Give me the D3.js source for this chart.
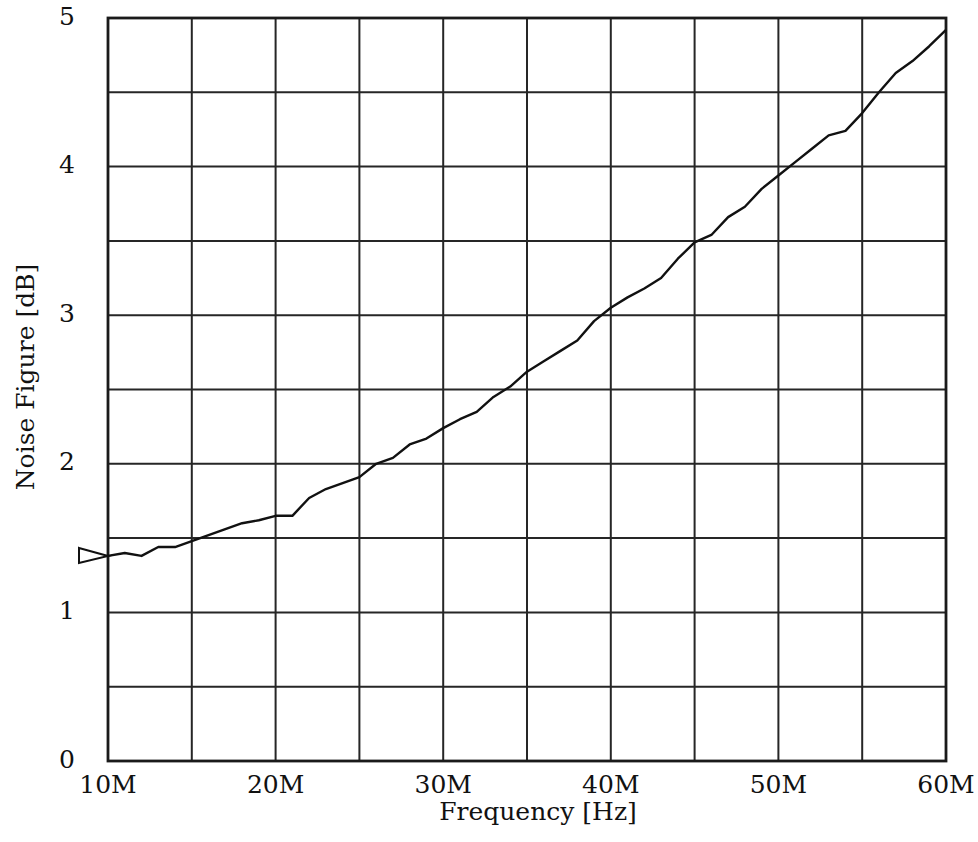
<!DOCTYPE html>
<html>
<head>
<meta charset="UTF-8">
<script src="https://d3js.org/d3.v7.min.js"></script>
<style>
  body { margin: 0; background: #fff; }
  svg text { font-family: "DejaVu Serif", serif; fill: #111; }
</style>
</head>
<body>
<svg id="chart" width="978" height="842"></svg>
<script>
// data, 1 MHz steps
var freqMHz = [10, 11, 12, 13, 14, 15, 16, 17, 18, 19,
               20, 21, 22, 23, 24, 25, 26, 27, 28, 29,
               30, 31, 32, 33, 34, 35, 36, 37, 38, 39,
               40, 41, 42, 43, 44, 45, 46, 47, 48, 49,
               50, 51, 52, 53, 54, 55, 56, 57, 58, 59, 60];
var noiseDb = [1.38, 1.40, 1.38, 1.44, 1.44, 1.48, 1.52, 1.56, 1.60, 1.62,
               1.65, 1.65, 1.77, 1.83, 1.87, 1.91, 2.00, 2.04, 2.13, 2.17,
               2.24, 2.30, 2.35, 2.45, 2.52, 2.62, 2.69, 2.76, 2.83, 2.96,
               3.05, 3.12, 3.18, 3.25, 3.38, 3.49, 3.54, 3.66, 3.73, 3.85,
               3.94, 4.03, 4.12, 4.21, 4.24, 4.36, 4.50, 4.63, 4.71, 4.81, 4.92];
var xTicks = [10, 20, 30, 40, 50, 60];
var xTickLabels = ["10M", "20M", "30M", "40M", "50M", "60M"];
var xGrid = [15, 20, 25, 30, 35, 40, 45, 50, 55];
var yTicks = [0, 1, 2, 3, 4, 5];
var yGrid = [0.5, 1, 1.5, 2, 2.5, 3, 3.5, 4, 4.5];
var markerValue = 1.38;

var svg = d3.select("#chart");
var plotL = 108, plotR = 946, plotT = 18, plotB = 761;

var x = d3.scaleLinear().domain([10, 60]).range([plotL, plotR]);
var y = d3.scaleLinear().domain([0, 5]).range([plotB, plotT]);

// grid
svg.append("g").selectAll("line").data(xGrid).enter().append("line")
  .attr("x1", function (d) { return x(d); }).attr("x2", function (d) { return x(d); })
  .attr("y1", plotT).attr("y2", plotB)
  .attr("stroke", "#262626").attr("stroke-width", 2);

svg.append("g").selectAll("line").data(yGrid).enter().append("line")
  .attr("x1", plotL).attr("x2", plotR)
  .attr("y1", function (d) { return y(d); }).attr("y2", function (d) { return y(d); })
  .attr("stroke", "#262626").attr("stroke-width", 2);

// frame
svg.append("rect")
  .attr("x", plotL).attr("y", plotT)
  .attr("width", plotR - plotL).attr("height", plotB - plotT)
  .attr("fill", "none").attr("stroke", "#1a1a1a").attr("stroke-width", 2.8);

// curve
var line = d3.line()
  .x(function (d) { return x(d[0]); })
  .y(function (d) { return y(d[1]); });

svg.append("path")
  .datum(d3.zip(freqMHz, noiseDb))
  .attr("d", line)
  .attr("fill", "none")
  .attr("stroke", "#111")
  .attr("stroke-width", 2.4)
  .attr("stroke-linejoin", "round");

// reference triangle on the left edge
var my = y(markerValue);
svg.append("path")
  .attr("d", "M" + (plotL - 29) + "," + (my - 8) + "L" + plotL + "," + my + "L" + (plotL - 29) + "," + (my + 7) + "Z")
  .attr("fill", "none").attr("stroke", "#111").attr("stroke-width", 2);

// tick labels
svg.append("g").selectAll("text").data(xTicks).enter().append("text")
  .attr("x", function (d) { return x(d); })
  .attr("y", plotB + 32)
  .attr("text-anchor", "middle")
  .attr("font-size", 25)
  .text(function (d, i) { return xTickLabels[i]; });

svg.append("g").selectAll("text").data(yTicks).enter().append("text")
  .attr("x", 75)
  .attr("y", function (d) { return y(d) + 6.5; })
  .attr("text-anchor", "end")
  .attr("font-size", 25)
  .text(function (d) { return d; });

// axis titles
svg.append("text")
  .attr("x", 538).attr("y", 820)
  .attr("text-anchor", "middle")
  .attr("font-size", 25)
  .text("Frequency [Hz]");

svg.append("text")
  .attr("transform", "translate(34,377) rotate(-90)")
  .attr("text-anchor", "middle")
  .attr("font-size", 25)
  .text("Noise Figure [dB]");
</script>
</body>
</html>
